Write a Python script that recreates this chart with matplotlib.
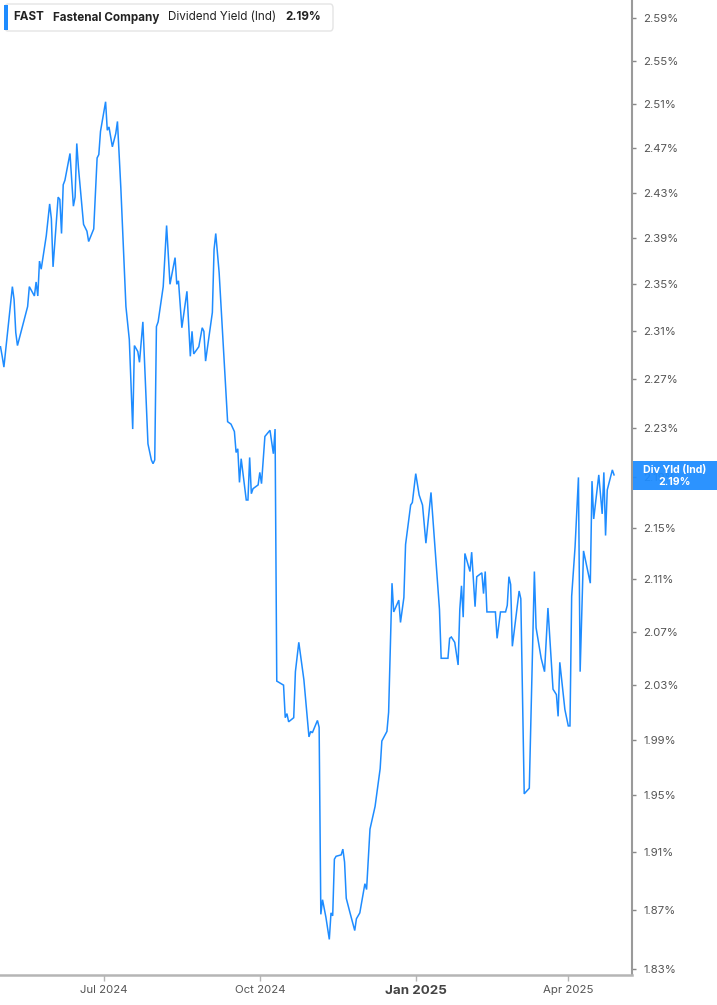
import matplotlib
matplotlib.use("Agg")
import matplotlib.pyplot as plt
import matplotlib.dates as mdates
from matplotlib.patches import FancyBboxPatch, Rectangle
from matplotlib.ticker import FixedLocator, NullLocator, FuncFormatter
import pandas as pd

# dividend yield (%)
dates = [
    "2024-05-01", "2024-05-02", "2024-05-03", "2024-05-08", "2024-05-09", "2024-05-10",
    "2024-05-11", "2024-05-15", "2024-05-17", "2024-05-18", "2024-05-21", "2024-05-22",
    "2024-05-23", "2024-05-24", "2024-05-25", "2024-05-28", "2024-05-30", "2024-05-31",
    "2024-06-01", "2024-06-04", "2024-06-05", "2024-06-06", "2024-06-07", "2024-06-08",
    "2024-06-11", "2024-06-13", "2024-06-14", "2024-06-15", "2024-06-16", "2024-06-19",
    "2024-06-21", "2024-06-22", "2024-06-25", "2024-06-27", "2024-06-28", "2024-06-29",
    "2024-07-02", "2024-07-03", "2024-07-04", "2024-07-06", "2024-07-08", "2024-07-09",
    "2024-07-11", "2024-07-14", "2024-07-16", "2024-07-18", "2024-07-19", "2024-07-21",
    "2024-07-22", "2024-07-24", "2024-07-27", "2024-07-29", "2024-07-30", "2024-07-31",
    "2024-08-01", "2024-08-02", "2024-08-05", "2024-08-07", "2024-08-09", "2024-08-12",
    "2024-08-13", "2024-08-14", "2024-08-16", "2024-08-19", "2024-08-21", "2024-08-22",
    "2024-08-23", "2024-08-26", "2024-08-28", "2024-08-29", "2024-08-30", "2024-09-03",
    "2024-09-04", "2024-09-05", "2024-09-07", "2024-09-10", "2024-09-12", "2024-09-14",
    "2024-09-16", "2024-09-17", "2024-09-18", "2024-09-19", "2024-09-20", "2024-09-23",
    "2024-09-24", "2024-09-25", "2024-09-26", "2024-09-27", "2024-09-30", "2024-10-01",
    "2024-10-02", "2024-10-04", "2024-10-07", "2024-10-09", "2024-10-10", "2024-10-11",
    "2024-10-15", "2024-10-16", "2024-10-17", "2024-10-18", "2024-10-21", "2024-10-22",
    "2024-10-24", "2024-10-27", "2024-10-30", "2024-10-31", "2024-11-01", "2024-11-04",
    "2024-11-05", "2024-11-06", "2024-11-07", "2024-11-09", "2024-11-11", "2024-11-12",
    "2024-11-13", "2024-11-14", "2024-11-15", "2024-11-18", "2024-11-19", "2024-11-20",
    "2024-11-21", "2024-11-23", "2024-11-26", "2024-11-27", "2024-11-29", "2024-12-02",
    "2024-12-03", "2024-12-05", "2024-12-08", "2024-12-11", "2024-12-12", "2024-12-15",
    "2024-12-16", "2024-12-18", "2024-12-19", "2024-12-22", "2024-12-23", "2024-12-25",
    "2024-12-26", "2024-12-29", "2024-12-30", "2025-01-01", "2025-01-03", "2025-01-05",
    "2025-01-07", "2025-01-10", "2025-01-12", "2025-01-15", "2025-01-16", "2025-01-20",
    "2025-01-21", "2025-01-22", "2025-01-24", "2025-01-26", "2025-01-27", "2025-01-28",
    "2025-01-29", "2025-01-30", "2025-02-02", "2025-02-03", "2025-02-05", "2025-02-06",
    "2025-02-09", "2025-02-10", "2025-02-11", "2025-02-12", "2025-02-17", "2025-02-18",
    "2025-02-20", "2025-02-23", "2025-02-24", "2025-02-25", "2025-02-26", "2025-02-27",
    "2025-03-03", "2025-03-04", "2025-03-06", "2025-03-09", "2025-03-12", "2025-03-13",
    "2025-03-16", "2025-03-18", "2025-03-20", "2025-03-23", "2025-03-25", "2025-03-26",
    "2025-03-27", "2025-03-30", "2025-04-01", "2025-04-02", "2025-04-03", "2025-04-05",
    "2025-04-07", "2025-04-08", "2025-04-10", "2025-04-14", "2025-04-15", "2025-04-16",
    "2025-04-19", "2025-04-21", "2025-04-22", "2025-04-23", "2025-04-24", "2025-04-27",
    "2025-04-28",
]
yields = [
    2.297, 2.289, 2.280, 2.348, 2.337, 2.309,
    2.298, 2.320, 2.331, 2.348, 2.340, 2.352,
    2.340, 2.370, 2.363, 2.392, 2.420, 2.407,
    2.365, 2.426, 2.424, 2.394, 2.437, 2.441,
    2.465, 2.418, 2.426, 2.474, 2.452, 2.402,
    2.396, 2.387, 2.398, 2.461, 2.464, 2.485,
    2.512, 2.486, 2.489, 2.471, 2.483, 2.494,
    2.434, 2.331, 2.303, 2.229, 2.298, 2.293,
    2.284, 2.318, 2.217, 2.204, 2.201, 2.204,
    2.314, 2.318, 2.348, 2.401, 2.350, 2.373,
    2.350, 2.353, 2.313, 2.344, 2.289, 2.310,
    2.291, 2.297, 2.313, 2.310, 2.285, 2.326,
    2.380, 2.394, 2.360, 2.284, 2.235, 2.233,
    2.227, 2.210, 2.213, 2.186, 2.205, 2.172,
    2.172, 2.206, 2.177, 2.181, 2.184, 2.194,
    2.185, 2.223, 2.228, 2.209, 2.229, 2.033,
    2.030, 2.006, 2.009, 2.003, 2.006, 2.040,
    2.062, 2.034, 1.992, 1.996, 1.995, 2.004,
    1.999, 1.867, 1.877, 1.865, 1.850, 1.868,
    1.866, 1.905, 1.907, 1.908, 1.912, 1.903,
    1.878, 1.869, 1.856, 1.864, 1.868, 1.888,
    1.884, 1.926, 1.942, 1.969, 1.989, 1.996,
    2.010, 2.107, 2.085, 2.094, 2.077, 2.096,
    2.137, 2.168, 2.170, 2.193, 2.176, 2.168,
    2.138, 2.178, 2.141, 2.087, 2.050, 2.050,
    2.065, 2.066, 2.062, 2.045, 2.087, 2.105,
    2.081, 2.130, 2.116, 2.131, 2.089, 2.112,
    2.115, 2.099, 2.116, 2.085, 2.085, 2.065,
    2.085, 2.085, 2.090, 2.112, 2.106, 2.059,
    2.101, 2.095, 1.951, 1.955, 2.116, 2.073,
    2.050, 2.040, 2.088, 2.027, 2.023, 2.007,
    2.047, 2.012, 2.000, 2.000, 2.097, 2.135,
    2.190, 2.040, 2.132, 2.107, 2.187, 2.157,
    2.192, 2.161, 2.194, 2.144, 2.180, 2.196,
    2.192,
]

y_ticks = [1.83, 1.87, 1.91, 1.95, 1.99, 2.03, 2.07, 2.11, 2.15, 2.19,
           2.23, 2.27, 2.31, 2.35, 2.39, 2.43, 2.47, 2.51, 2.55, 2.59]
x_ticks = ["2024-07-01", "2024-10-01", "2025-01-01", "2025-04-01"]
x_labels = ["Jul 2024", "Oct 2024", "Jan 2025", "Apr 2025"]

ticker_name = "FAST"
company = "Fastenal Company"
metric = "Dividend Yield (Ind)"
last_label = "Div Yld (Ind)"

BLUE = "#1e8cff"
W, H = 717, 1005

plt.rcParams["font.family"] = ["Inter", "DejaVu Sans"]

fig = plt.figure(figsize=(W / 100, H / 100), dpi=100)
ax = fig.add_axes([0, 1 - 975 / H, 632 / W, 975 / H])

x = pd.to_datetime(dates)
ax.plot(x, yields, color=BLUE, lw=1.1, solid_joinstyle="miter")

ax.set_yscale("log")
ax.set_ylim(1.8261, 2.6071)
ax.yaxis.set_major_locator(FixedLocator(y_ticks))
ax.yaxis.set_minor_locator(NullLocator())
ax.yaxis.set_major_formatter(FuncFormatter(lambda v, p: f"{v:.2f}%"))
ax.yaxis.tick_right()

start = pd.Timestamp("2024-05-01")
ax.set_xlim(mdates.date2num(start) - 0.3, mdates.date2num(start) + 372.6)
ax.set_xticks(pd.to_datetime(x_ticks))
ax.set_xticklabels(x_labels)
ax.xaxis.set_minor_locator(NullLocator())

for s in ["left", "top"]:
    ax.spines[s].set_visible(False)
ax.spines["right"].set_color("#9a9a9a")
ax.spines["right"].set_linewidth(1.5)
ax.spines["bottom"].set_color("#b5b5b5")
ax.spines["bottom"].set_linewidth(1.8)

ax.tick_params(axis="y", which="major", right=True, left=False, length=3, width=1,
               color="#888888", labelcolor="#555555", labelsize=8.2, pad=5)
ax.tick_params(axis="x", which="major", length=4, width=1, color="#b5b5b5",
               labelcolor="#555555", labelsize=8.2, pad=3)
for lab in ax.get_xticklabels():
    if lab.get_text() == "Jan 2025":
        lab.set_fontweight("bold")
        lab.set_fontsize(9.6)
        lab.set_color("#444444")


def fx(px):
    return px / W


def fy(py):
    return 1 - py / H


# header box
fig.patches.append(FancyBboxPatch((fx(5), fy(31)), fx(328), 27 / H, boxstyle="round,pad=0,rounding_size=0.004",
                                  transform=fig.transFigure, facecolor="white", edgecolor="#e4e4e4", lw=1))
fig.patches.append(Rectangle((fx(4), fy(30)), fx(3.5), 25 / H, transform=fig.transFigure,
                             facecolor=BLUE, edgecolor="none"))
hdr = dict(fontsize=8.4, color="#222222", va="center")
fig.text(fx(13), fy(17.5), ticker_name, fontweight="bold", **hdr)
fig.text(fx(53), fy(17.5), company, fontweight="bold", **hdr)
fig.text(fx(168), fy(17.5), metric, **hdr)
fig.text(fx(285), fy(17.5), f"{yields[-1]:.2f}%", fontweight="bold", **hdr)

# last value tag on the right axis
fig.patches.append(Rectangle((fx(632.5), fy(490.5)), fx(85), 29.5 / H, transform=fig.transFigure,
                             facecolor=BLUE, edgecolor="none", alpha=0.94, zorder=5))
tag = dict(fontsize=7.6, fontweight="bold", color="white", ha="center", va="center", zorder=6)
fig.text(fx(675), fy(470.5), last_label, **tag)
fig.text(fx(675), fy(481.5), f"{yields[-1]:.2f}%", **tag)

fig.savefig("out.png", dpi=100)
